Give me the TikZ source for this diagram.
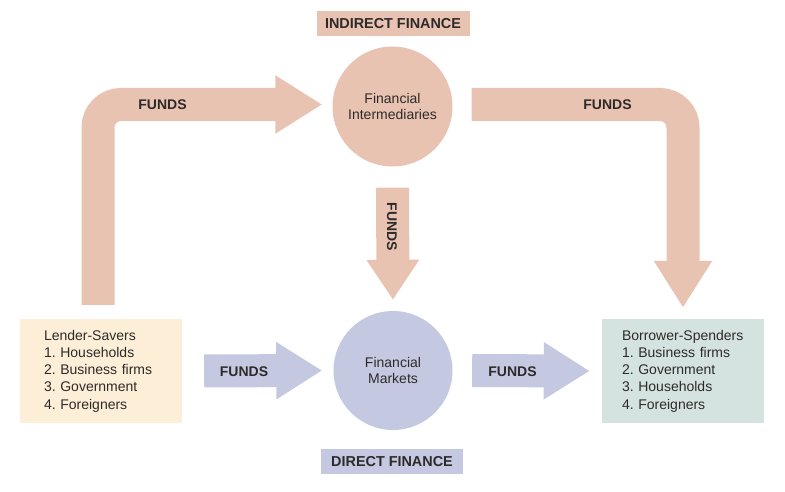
\documentclass[tikz,border=0pt]{standalone}
\usepackage{fontspec}
\setmainfont{Liberation Sans}
\usepackage{xcolor}
\usetikzlibrary{arrows.meta,positioning}
\definecolor{indirectc}{HTML}{E8C3B2}
\definecolor{directc}{HTML}{C4C9E1}
\definecolor{lenderc}{HTML}{FDEFD7}
\definecolor{borrowerc}{HTML}{D4E3DF}
\definecolor{ink}{HTML}{2E2A29}
\frenchspacing
\tikzset{every node/.style={align=center,text=ink,font=\fontsize{14}{17.3}\selectfont}}
\tikzset{funds/.style={font=\fontsize{14}{17}\selectfont\bfseries}}
\tikzset{flow/.style={line width=33pt,rounded corners=23pt,-{Triangle[length=47pt,width=55pt]}}}

\begin{document}
\begin{tikzpicture}[x=1pt,y=-1pt]
\useasboundingbox (0,0) rectangle (785,492);

\node[fill=indirectc,minimum width=153pt,minimum height=25pt,funds,font=\fontsize{14.4}{17}\selectfont\bfseries] (IF) at (393,23.5) {INDIRECT FINANCE};
\node[circle,fill=indirectc,minimum size=120pt,inner sep=0pt,font=\fontsize{14}{15.5}\selectfont] (FI) at (392.5,106.5) {Financial\\Intermediaries};
\node[circle,fill=directc,minimum size=119pt,inner sep=0pt,font=\fontsize{14}{15.5}\selectfont] (FM) at (393,370.5) {Financial\\Markets};
\node[fill=directc,minimum width=142pt,minimum height=25pt,funds,font=\fontsize{14.4}{17}\selectfont\bfseries] (DF) at (392,461.5) {DIRECT FINANCE};

\node[fill=lenderc,align=left,text width=114pt,inner xsep=24pt,minimum height=104pt] (LS) at (101,371) {Lender-Savers\\1. Households\\2. Business firms\\3. Government\\4. Foreigners};
\node[fill=borrowerc,align=left,text width=122pt,inner xsep=20pt,minimum height=104pt] (BS) at (683,371) {Borrower-Spenders\\1. Business firms\\2. Government\\3. Households\\4. Foreigners};

% indirect finance
\draw[flow,draw=indirectc,shorten <=14pt,shorten >=10pt] ([xshift=-3pt]LS.north) |- ([yshift=2pt]FI.west);
\draw[flow,draw=indirectc,shorten <=19pt,shorten >=11pt] ([yshift=2pt]FI.east) -| (BS.north);
\draw[flow,draw=indirectc,-{Triangle[length=40pt,width=50pt]},shorten <=21pt,shorten >=11pt] (FI.south) -- (FM.north);

% direct finance
\draw[flow,draw=directc,-{Triangle[length=46pt,width=54pt]},shorten <=22pt,shorten >=11pt] (LS.east) -- (FM.west);
\draw[flow,draw=directc,-{Triangle[length=46pt,width=54pt]},shorten <=19.5pt,shorten >=12pt] (FM.east) -- (BS.west);

\node[funds] (f1) at (162.5,105) {FUNDS};
\node[funds] (f2) at (607.5,105) {FUNDS};
\node[funds,rotate=-90] (f3) at (392,227) {FUNDS};
\node[funds] (f4) at (244,372) {FUNDS};
\node[funds] (f5) at (512.5,372) {FUNDS};

\end{tikzpicture}
\end{document}
